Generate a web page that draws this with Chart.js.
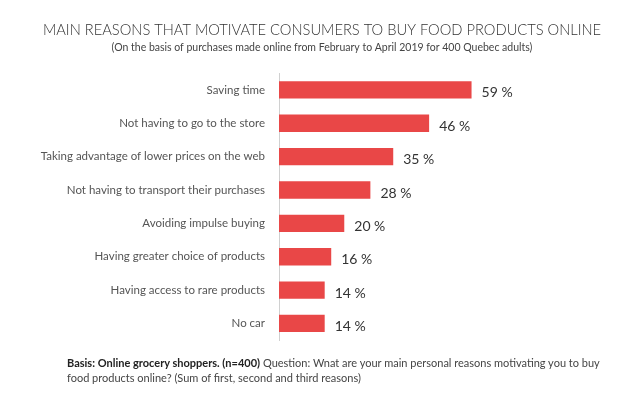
<!DOCTYPE html>
<html>
<head>
<meta charset="utf-8">
<script src="https://cdn.jsdelivr.net/npm/chart.js@4/dist/chart.umd.min.js"></script>
<style>
    body { margin: 0; background: #fff; font-family: Lato, sans-serif; }
    .wrap { position: relative; width: 638px; height: 414px; }
    .chart { position: absolute; left: 0; top: 0; width: 638px; height: 361px; }
    .note {
        position: absolute; left: 67px; top: 355px; width: 535px;
        font-size: 11px; line-height: 15px; color: #444;
    }
    .note b { color: #222; }
</style>
</head>
<body>
<div class="wrap">
    <div class="chart"><canvas id="canva"></canvas></div>
    <div class="note"><b>Basis: Online grocery shoppers. (n=400)</b> Question: Wnat are your main personal reasons motivating you to buy food products online? (Sum of first, second and third reasons)</div>
</div>
<script>
const reasons = [
    'Saving time',
    'Not having to go to the store',
    'Taking advantage of lower prices on the web',
    'Not having to transport their purchases',
    'Avoiding impulse buying',
    'Having greater choice of products',
    'Having access to rare products',
    'No car',
];
const shares = [59, 46, 35, 28, 20, 16, 14, 14];

const valueLabels = {
    id: 'valueLabels',
    afterDatasetsDraw(chart) {
        const ctx = chart.ctx;
        const meta = chart.getDatasetMeta(0);
        ctx.save();
        ctx.font = '14px Lato';
        ctx.fillStyle = '#333';
        ctx.textBaseline = 'middle';
        meta.data.forEach((bar, i) => {
            ctx.fillText(shares[i] + ' %', bar.x + 10, bar.y + 3);
        });
        ctx.restore();
    },
};

new Chart(document.getElementById('canva'), {
    type: 'bar',
    data: {
        labels: reasons,
        datasets: [
            {
                data: shares,
                backgroundColor: '#E94747',
                borderWidth: 0,
                barPercentage: 0.52,
                categoryPercentage: 1,
            },
        ],
    },
    options: {
        indexAxis: 'y',
        responsive: true,
        maintainAspectRatio: false,
        animation: false,
        layout: { padding: { left: 6, right: 0, top: 0, bottom: 8 } },
        scales: {
            x: {
                min: 0,
                max: 110,
                display: false,
            },
            y: {
                grid: { display: false, drawTicks: false },
                border: { color: '#d0d0d0', width: 1 },
                ticks: {
                    color: '#555',
                    font: { family: 'Lato', size: 11.5 },
                    padding: 14,
                },
                afterFit(scale) {
                    scale.width = 273;
                },
            },
        },
        plugins: {
            legend: { display: false },
            tooltip: { enabled: false },
            title: {
                display: true,
                text: 'MAIN REASONS THAT MOTIVATE CONSUMERS TO BUY FOOD PRODUCTS ONLINE',
                color: '#333',
                font: { family: 'Lato', size: 14.7, weight: 300 },
                padding: { top: 21, bottom: 3 },
            },
            subtitle: {
                display: true,
                text: '(On the basis of purchases made online from February to April 2019 for 400 Quebec adults)',
                color: '#444',
                font: { family: 'Lato', size: 10.5 },
                padding: { bottom: 19 },
            },
        },
    },
    plugins: [valueLabels],
});
</script>
</body>
</html>
